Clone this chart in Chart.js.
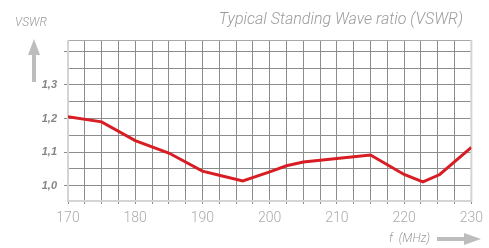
<!DOCTYPE html>
<html>
<head>
<meta charset="utf-8">
<script src="https://cdn.jsdelivr.net/npm/chart.js@4.4.0/dist/chart.umd.min.js"></script>
<style>
html,body{margin:0;padding:0;background:#fff;}
#wrap{width:489px;height:248px;position:relative;}
</style>
</head>
<body>
<div id="wrap"><canvas id="c" width="489" height="248"></canvas></div>
<script>
// Data
const freqs = [170, 175, 180, 185, 190, 192.5, 196, 200, 202.5, 205, 210, 215, 220, 222.8, 225.3, 230];
const vswr  = [1.205, 1.19, 1.134, 1.097, 1.043, 1.031, 1.014, 1.041, 1.059, 1.07, 1.081, 1.091, 1.033, 1.011, 1.033, 1.114];
const yTicks = [1.0, 1.05, 1.1, 1.15, 1.2, 1.25, 1.3, 1.35, 1.4];
const yLabels = {"1.0": "1,0", "1.1": "1,1", "1.2": "1,2", "1.3": "1,3"};
const xLabelValues = [170, 180, 190, 200, 210, 220, 230];
const titleText = "Typical Standing Wave ratio (VSWR)";
const yAxisText = "VSWR";
const xAxisText = "f  (MHz)";

const GRID = '#8c8c8c';
const LIGHT = '#d4d4d4';
const ARROW = '#bdbdbd';

const decor = {
  id: 'decor',
  beforeDatasetsDraw(chart) {
    const {ctx, chartArea: a} = chart;
    ctx.save();
    ctx.strokeStyle = '#a8a8a8';
    ctx.lineWidth = 1;
    ctx.beginPath();
    ctx.moveTo(a.left, a.top + 0.5);
    ctx.lineTo(a.right, a.top + 0.5);
    ctx.stroke();
    ctx.strokeStyle = LIGHT;
    ctx.lineWidth = 2;
    ctx.beginPath();
    ctx.moveTo(a.left, a.top);
    ctx.lineTo(a.left, a.bottom);
    ctx.lineTo(a.right, a.bottom);
    ctx.lineTo(a.right, a.top);
    ctx.stroke();
    ctx.restore();
  },
  afterDraw(chart) {
    const {ctx} = chart;
    ctx.save();
    ctx.fillStyle = '#9a9a9a';
    ctx.font = 'italic 300 16px Roboto, "Liberation Sans", sans-serif';
    ctx.textAlign = 'right';
    ctx.textBaseline = 'middle';
    ctx.fillText(titleText, 463, 20);
    ctx.font = 'italic 300 12px Roboto, "Liberation Sans", sans-serif';
    ctx.textAlign = 'left';
    ctx.fillText(yAxisText, 15, 23);
    ctx.fillText(xAxisText, 389, 239);
    ctx.fillStyle = ARROW;
    ctx.fillRect(32, 54, 4, 28);
    ctx.beginPath();
    ctx.moveTo(34, 39);
    ctx.lineTo(40, 55);
    ctx.lineTo(28, 55);
    ctx.closePath();
    ctx.fill();
    ctx.fillRect(437, 237, 28, 4);
    ctx.beginPath();
    ctx.moveTo(481, 239);
    ctx.lineTo(464, 233);
    ctx.lineTo(464, 245);
    ctx.closePath();
    ctx.fill();
    ctx.restore();
  }
};

new Chart(document.getElementById('c'), {
  type: 'line',
  data: {
    datasets: [{
      data: freqs.map((f, i) => ({x: f, y: vswr[i]})),
      borderColor: '#d81e25',
      borderWidth: 3,
      pointRadius: 0,
      tension: 0,
      fill: false
    }]
  },
  options: {
    responsive: false,
    animation: false,
    devicePixelRatio: 1,
    layout: {padding: {left: 0, right: 14, top: 40, bottom: 0}},
    plugins: {legend: {display: false}, tooltip: {enabled: false}, title: {display: false}},
    scales: {
      x: {
        type: 'linear',
        min: 170, max: 230,
        afterFit(s) { s.height = 47; },
        border: {display: false},
        grid: {
          color: c => (c.tick && (c.tick.value === 170 || c.tick.value === 230)) ? 'rgba(0,0,0,0)' : GRID,
          tickColor: GRID,
          tickLength: 3,
          lineWidth: 1
        },
        ticks: {
          stepSize: 2.5,
          autoSkip: false,
          maxRotation: 0,
          padding: 6,
          color: '#ababab',
          font: {family: 'Roboto, "Liberation Sans", sans-serif', size: 14, weight: 300},
          callback: v => xLabelValues.includes(v) ? String(v) : ''
        }
      },
      y: {
        min: 0.954, max: 1.434,
        afterFit(s) { s.width = 68; },
        afterBuildTicks(s) { s.ticks = yTicks.map(v => ({value: v})); },
        border: {display: false},
        grid: {
          color: GRID,
          tickColor: c => (c.tick && Math.abs(Math.round(c.tick.value * 10) - c.tick.value * 10) < 1e-6) ? GRID : 'rgba(0,0,0,0)',
          tickLength: 4,
          lineWidth: 1
        },
        ticks: {
          autoSkip: false,
          padding: 7,
          color: '#868686',
          font: {family: '"Liberation Sans", Arial, sans-serif', size: 11, style: 'italic', weight: 'bold'},
          callback: v => yLabels[v.toFixed(1)] && Math.abs(v * 10 - Math.round(v * 10)) < 1e-6 ? yLabels[v.toFixed(1)] : ''
        }
      }
    }
  },
  plugins: [decor]
});
</script>
</body>
</html>
